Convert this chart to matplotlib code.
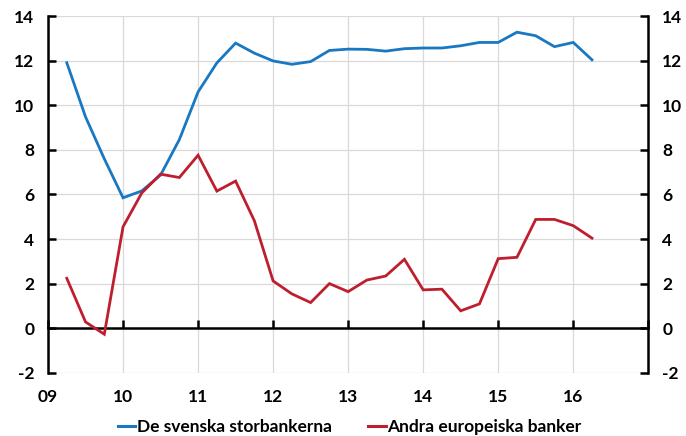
import matplotlib
matplotlib.use("Agg")
import matplotlib.pyplot as plt
from matplotlib.lines import Line2D

plt.rcParams['font.family'] = ['Lato', 'DejaVu Sans']
plt.rcParams['font.weight'] = 'bold'

quarters = [9.25 + 0.25 * i for i in range(29)]
svenska = [11.91, 9.48, 7.6, 5.85, 6.16, 6.87, 8.46, 10.6, 11.9, 12.79, 12.34, 11.99,
           11.84, 11.96, 12.46, 12.52, 12.51, 12.43, 12.54, 12.57, 12.57, 12.67, 12.82,
           12.82, 13.28, 13.12, 12.63, 12.82, 12.04]
europeiska = [2.24, 0.28, -0.27, 4.55, 6.07, 6.91, 6.76, 7.76, 6.15, 6.6, 4.82, 2.12,
              1.54, 1.15, 2.0, 1.64, 2.16, 2.34, 3.09, 1.72, 1.75, 0.78, 1.09, 3.12,
              3.18, 4.88, 4.88, 4.6, 4.04]
year_ticks = [9, 10, 11, 12, 13, 14, 15, 16]
year_labels = ['09', '10', '11', '12', '13', '14', '15', '16']
y_ticks = [-2, 0, 2, 4, 6, 8, 10, 12, 14]
series_names = ['De svenska storbankerna', 'Andra europeiska banker']

blue = '#1878C2'
red = '#BE1E2D'

fig = plt.figure(figsize=(6.86, 4.36), dpi=100)
ax = fig.add_axes([0.070, 0.145, 0.875, 0.818])

ax.set_xlim(9, 17)
ax.set_ylim(-2, 14)

ax.plot(quarters, svenska, color=blue, lw=2.0, solid_joinstyle='miter', zorder=3)
ax.plot(quarters, europeiska, color=red, lw=2.0, solid_joinstyle='miter', zorder=3)

# grid
for xv in range(9, 18):
    ax.axvline(xv, color='#D9D9D9', lw=0.9, zorder=0)
for yv in y_ticks:
    ax.axhline(yv, color='#D9D9D9', lw=0.9, zorder=0)

# spines
ax.spines['top'].set_visible(False)
ax.spines['left'].set_linewidth(1.8)
ax.spines['right'].set_linewidth(1.8)
ax.spines['bottom'].set_position(('data', 0))
ax.spines['bottom'].set_linewidth(1.8)
ax.spines['bottom'].set_zorder(2)

ax.set_yticks(y_ticks)
ax.set_yticklabels([str(v) for v in y_ticks])
ax.tick_params(axis='y', which='both', direction='in', length=6, width=1.8,
               left=True, right=True, labelleft=True, labelright=True,
               labelsize=12.5, pad=10)
ax.set_xticks(list(range(9, 18)))
ax.tick_params(axis='x', direction='in', length=6, width=1.8, labelbottom=False)

sec = ax.secondary_xaxis(0.0)
sec.set_xticks(year_ticks)
sec.set_xticklabels(year_labels)
sec.tick_params(axis='x', length=0, labelsize=12.5, pad=12)
sec.spines['bottom'].set_visible(False)

handles = [Line2D([0], [0], color=blue, lw=2.2), Line2D([0], [0], color=red, lw=2.2)]
fig.legend(handles, series_names, loc='center', bbox_to_anchor=(0.51, 9 / 436),
           ncol=2, frameon=False, fontsize=12.5, handlelength=1.0, handletextpad=0.1,
           columnspacing=2.1)

fig.savefig('out.png', dpi=100)
